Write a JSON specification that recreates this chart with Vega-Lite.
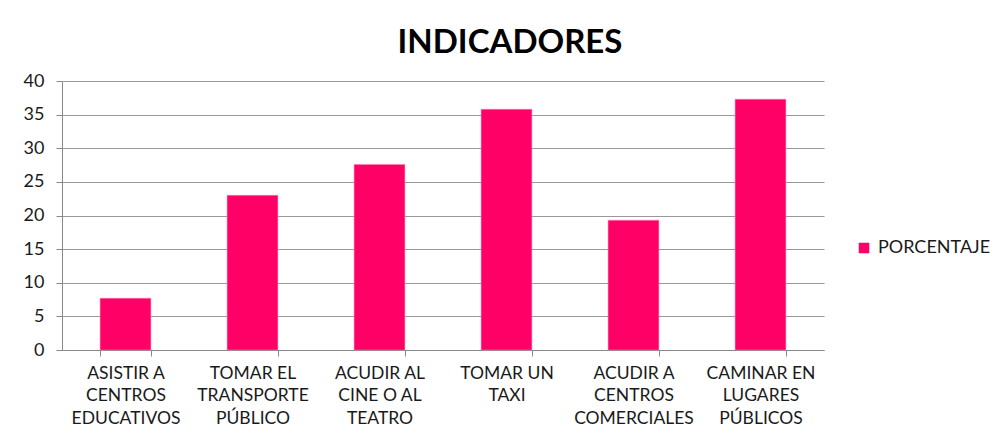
{
  "$schema": "https://vega.github.io/schema/vega-lite/v6.json",
  "autosize": {"type": "none"},
  "padding": {"left": 62, "top": 81, "right": 177, "bottom": 83},
  "width": 762,
  "height": 269,
  "background": "white",
  "title": {"text": "INDICADORES", "font": "Lato", "fontSize": 33, "fontWeight": "bold", "color": "#000000", "anchor": "middle", "dx": 67, "offset": 12},
  "data": {"values": [
    {"indicador": "ASISTIR A|CENTROS|EDUCATIVOS", "serie": "PORCENTAJE", "valor": 7.7},
    {"indicador": "TOMAR EL|TRANSPORTE|PÚBLICO", "serie": "PORCENTAJE", "valor": 23.0},
    {"indicador": "ACUDIR AL|CINE O AL|TEATRO", "serie": "PORCENTAJE", "valor": 27.6},
    {"indicador": "TOMAR UN|TAXI", "serie": "PORCENTAJE", "valor": 35.8},
    {"indicador": "ACUDIR A|CENTROS|COMERCIALES", "serie": "PORCENTAJE", "valor": 19.3},
    {"indicador": "CAMINAR EN|LUGARES|PÚBLICOS", "serie": "PORCENTAJE", "valor": 37.3}
  ]},
  "mark": {"type": "bar", "stroke": "#ff80b0", "strokeWidth": 0.5},
  "encoding": {
    "x": {
      "field": "indicador", "type": "nominal", "sort": null,
      "scale": {"paddingInner": 0.6, "paddingOuter": 0.3},
      "axis": {
        "title": null, "labelAngle": 0, "labelExpr": "split(datum.label, '|')",
        "labelFont": "Lato", "labelFontSize": 17.5, "labelColor": "#1a1a1a", "labelLineHeight": 22.5,
        "labelBaseline": "top", "labelPadding": 8, "tickBand": "extent", "tickSize": 6,
        "tickColor": "#888888", "domainColor": "#888888", "grid": false
      }
    },
    "y": {
      "field": "valor", "type": "quantitative",
      "scale": {"domain": [0, 40]},
      "axis": {
        "title": null, "values": [0, 5, 10, 15, 20, 25, 30, 35, 40],
        "labelFont": "Lato", "labelFontSize": 18, "labelColor": "#1a1a1a", "labelPadding": 12,
        "tickSize": 6, "tickColor": "#888888", "domainColor": "#888888",
        "gridColor": "#999999", "gridWidth": 1
      }
    },
    "color": {
      "field": "serie", "type": "nominal",
      "scale": {"range": ["#ff0066"]},
      "legend": {
        "title": null, "orient": "none", "legendX": 793, "legendY": 158,
        "symbolType": "square", "symbolSize": 110, "symbolStrokeWidth": 0, "labelFont": "Lato", "labelFontSize": 18, "labelColor": "#1a1a1a", "labelOffset": 5
      }
    }
  },
  "config": {"view": {"stroke": null}}
}
